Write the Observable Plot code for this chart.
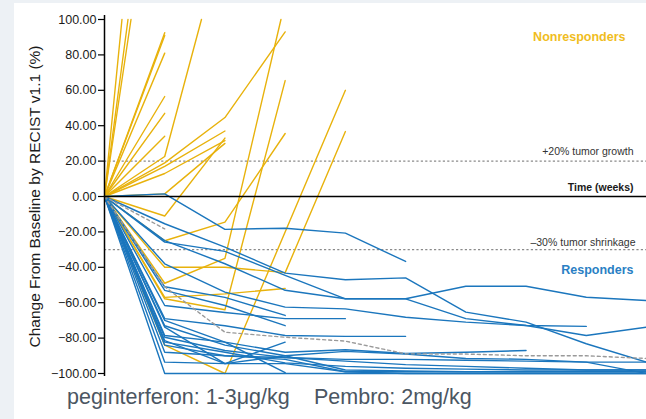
<!DOCTYPE html>
<html>
<head>
<meta charset="utf-8">
<script src="https://cdn.jsdelivr.net/npm/d3@7"></script>
<script src="https://cdn.jsdelivr.net/npm/@observablehq/plot@0.6"></script>
<style>
  html, body { margin: 0; padding: 0; }
  body { width: 646px; height: 419px; background: #edf1f5; position: relative; overflow: hidden; font-family: Arial, "Liberation Sans", sans-serif; }
  #card { position: absolute; left: 14px; top: 3px; width: 632px; height: 416px; background: #ffffff; }
  #chart { position: absolute; left: 0; top: 0; }
  .foot { position: absolute; top: 384px; font-size: 21.5px; line-height: 26px; color: #4b5662; white-space: pre; }
</style>
</head>
<body>
<div id="card"></div>
<div id="chart"></div>
<div class="foot" style="left:67px">peginterferon: 1-3μg/kg</div>
<div class="foot" style="left:314px">Pembro: 2mg/kg</div>
<script>
// ---- data (time index in weeks-steps, change from baseline %) ----
const yTicks = [-100, -80, -60, -40, -20, 0, 20, 40, 60, 80, 100];
const thresholds = [20, -30];

// Nonresponders: [time, value] pairs (lines leaving the top stop at 100)
const nonresponders = [
  [[0,0],[0.29,100]],
  [[0,0],[0.39,100]],
  [[0,0],[0.44,100]],
  [[0,0],[1,92.5]],
  [[0,0],[1,91]],
  [[0,0],[1,81]],
  [[0,0],[1,56.5]],
  [[0,0],[1,47]],
  [[0,0],[1,34]],
  [[0,0],[1,22.6],[1.61,100]],
  [[0,0],[1,19],[2,44.6],[3,93]],
  [[0,0],[1,13],[2,31.6]],
  [[0,0],[1,17],[2,37]],
  [[0,0],[1,1.5],[2,30]],
  [[0,0],[1,-11],[2,33]],
  [[0,0],[1,-25],[2,-14.5],[3,35.6]],
  [[0,0],[1,-40],[2,-40],[3,-43],[4,36.7]],
  [[0,0],[1,-49],[2,-35],[2.93,100]],
  [[0,0],[1,-57.8],[2,-64],[3,65.5]],
  [[0,0],[1,-57],[2,-55],[3,-52]],
  [[0,0],[1,-84],[2,-100],[4,60]]
];

// Responders: values at consecutive time steps 0,1,2,...
const responders = [
  [0,1.5,-18.6,-17.9,-20.7,-36.7],
  [0,-15.4,-28.6,-43.3,-47,-46,-65.3,-71,-83.2,-93.6],
  [0,-25.8,-31,-44.6,-57.8,-57.8,-50.7,-50.7,-56.9,-58.8],
  [0,-24.9,-38,-53,-57.8,-57.8,-69,-72.9,-73.4],
  [0,-38,-54,-62.5,-63.5,-68.2,-71,-72.9,-78.5,-73.8],
  [0,-51,-57,-67.2],
  [0,-53,-61.6,-73],
  [0,-61.6,-65.5,-69,-69],
  [0,-69,-73,-78.5,-79,-79],
  [0,-70,-82.3,-88,-86.6,-88.7,-88,-87],
  [0,-73,-84,-90,-87.5,-89,-91.5,-92,-93.6,-93.6],
  [0,-73.8,-94.4,-82.3],
  [0,-78.5,-82.3,-99.5],
  [0,-79.5,-87,-91,-93,-95,-96,-97,-98,-98],
  [0,-81.4,-94.4,-94.4,-99,-99,-99,-99,-99,-99],
  [0,-82.3,-88,-94,-96,-97,-97.5,-98,-98,-98],
  [0,-84,-90,-91,-92,-92,-92.5,-93,-93.6,-100],
  [0,-88,-90,-92,-99,-100,-100,-100,-100,-100],
  [0,-93.6,-94.4,-90,-98,-98.5,-99,-99,-99,-99],
  [0,-100,-100,-100,-100,-100,-100,-100,-100,-100]
];

// Dashed (gray) patients
const dashedSeries = [
  [0,-18.3],
  [0,-51,-76.7,-79.5,-81.7,-88.9,-89,-90,-90,-91.5]
];

// ---- build tidy rows ----
const yellowRows = nonresponders.flatMap((s, i) => s.map(([t, v]) => ({id: "n" + i, t, v})));
const blueRows = responders.flatMap((s, i) => s.map((v, t) => ({id: "r" + i, t, v})));
const dashRows = dashedSeries.flatMap((s, i) => s.map((v, t) => ({id: "d" + i, t, v})));

const YELLOW = "#e8b20c";
const BLUE = "#1b76bd";

const chart = Plot.plot({
  width: 646,
  height: 419,
  marginLeft: 104,
  marginRight: 0,
  marginTop: 19,
  marginBottom: 46,
  style: {background: "transparent", fontFamily: "Arial, 'Liberation Sans', sans-serif", color: "#1a1a1a", overflow: "visible"},
  x: {domain: [0, 9], axis: null},
  y: {domain: [-100, 100], axis: null},
  marks: [
    Plot.ruleY(thresholds, {stroke: "#8a8a8a", strokeWidth: 1.4, strokeDasharray: "2.2,2.2"}),
    Plot.line(yellowRows, {x: "t", y: "v", z: "id", stroke: YELLOW, strokeWidth: 1.4}),
    Plot.line(blueRows, {x: "t", y: "v", z: "id", stroke: BLUE, strokeWidth: 1.4}),
    Plot.line(dashRows, {x: "t", y: "v", z: "id", stroke: "#9a9a9a", strokeWidth: 1.4, strokeDasharray: "3,3"}),
    Plot.ruleY([0], {stroke: "#000", strokeWidth: 1.5}),
    Plot.ruleX([0], {stroke: "#000", strokeWidth: 1.5, insetTop: -4, insetBottom: -3}),
    Plot.axisY({ticks: yTicks, tickFormat: d3.format(".2f"), tickSize: 6, tickPadding: 2, label: null, fontSize: 12.5, stroke: "#000", strokeWidth: 1.2}),
    Plot.text(["Change From Baseline by RECIST v1.1 (%)"], {frameAnchor: "left", textAnchor: "middle", rotate: -90, dx: -69, fontSize: 15.5, fill: "#1a1a1a"}),
    Plot.text(["Nonresponders"], {x: 9, y: 100, dx: -21, dy: 17, textAnchor: "end", fill: "#f0bd1e", fontWeight: "bold", fontSize: 12.5}),
    Plot.text(["+20% tumor growth"], {x: 9, y: 20, dx: -13, dy: -9, textAnchor: "end", fill: "#333", fontSize: 10.5}),
    Plot.text(["Time (weeks)"], {x: 9, y: 0, dx: -13, dy: -9, textAnchor: "end", fill: "#1a1a1a", fontWeight: "bold", fontSize: 10.5}),
    Plot.text(["\u201330% tumor shrinkage"], {x: 9, y: -30, dx: -11, dy: -7, textAnchor: "end", fill: "#333", fontSize: 10.5}),
    Plot.text(["Responders"], {x: 9, y: -30, dx: -13, dy: 20, textAnchor: "end", fill: "#2a7fc4", fontWeight: "bold", fontSize: 12.5})
  ]
});
document.getElementById("chart").appendChild(chart);
</script>
</body>
</html>
